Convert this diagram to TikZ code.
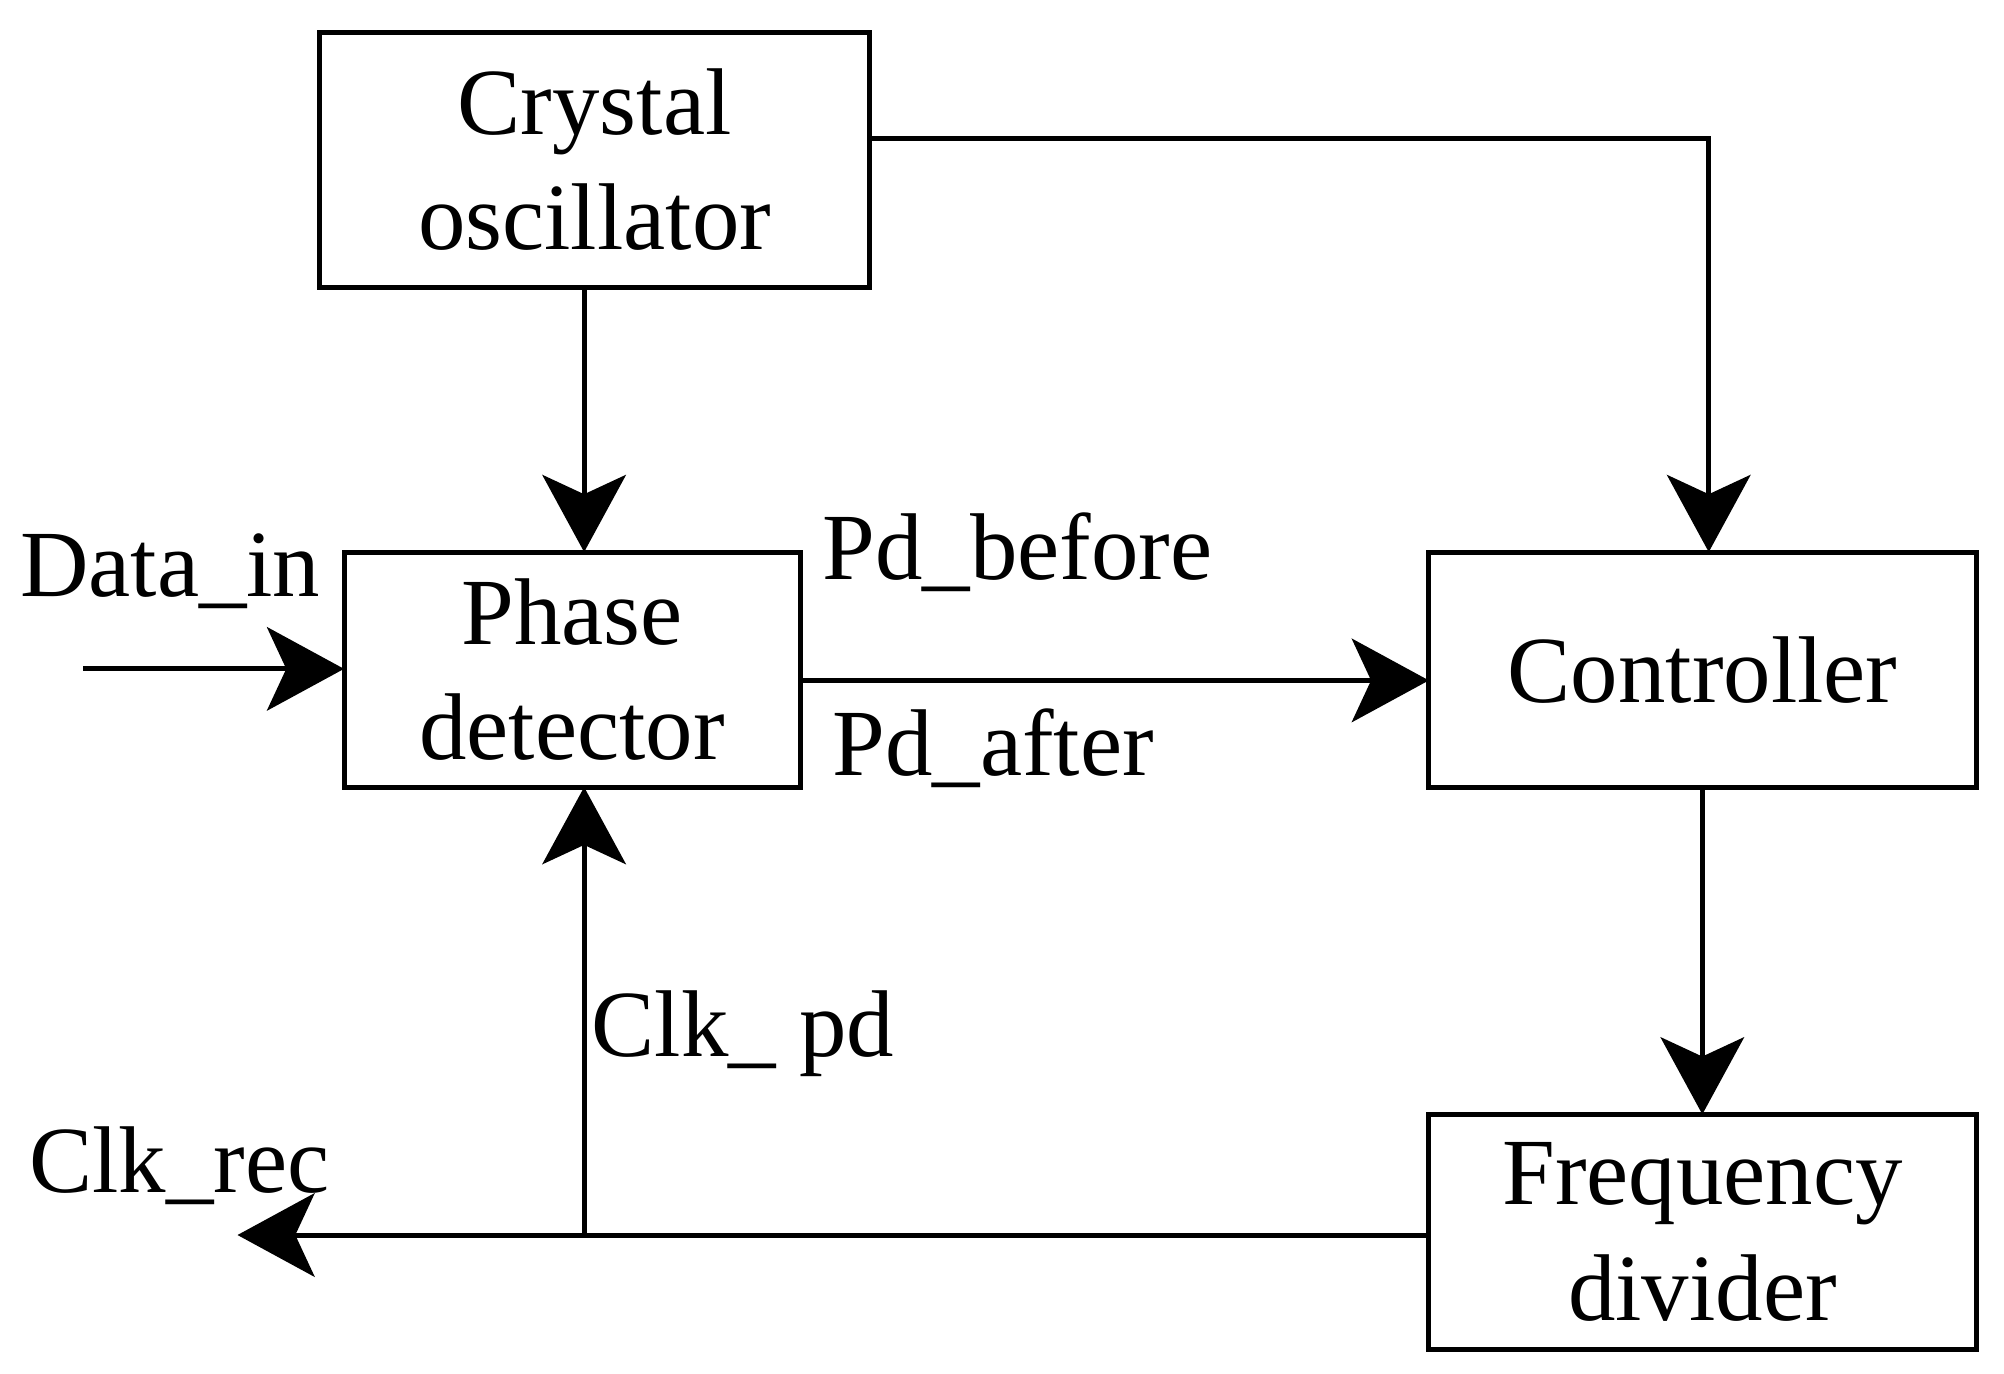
\documentclass[tikz,border=0pt]{standalone}
\usepackage{fontspec}
\setmainfont{Liberation Serif}
\usetikzlibrary{arrows.meta}
\begin{document}
\begin{tikzpicture}[x=0.01cm,y=-0.01cm,
  box/.style={draw,line width=1.1pt,inner sep=0pt,outer sep=0pt},
  lbl/.style={font=\fontsize{21}{25.5}\selectfont,align=center,inner sep=0pt},
  arr/.style={line width=1.1pt,-{Stealth[length=6mm,width=6.5mm,inset=1.5mm]}}]
\useasboundingbox (0,0) rectangle (1561,1070);
\node[box,minimum width=4.28cm,minimum height=1.99cm,anchor=north west] (xo) at (249,25) {};
\node[lbl] at (xo) {Crystal\\oscillator};
\node[box,minimum width=3.55cm,minimum height=1.83cm,anchor=north west] (pd) at (268,430) {};
\node[lbl] at (pd) {Phase\\detector};
\node[box,minimum width=4.26cm,minimum height=1.83cm,anchor=north west] (ct) at (1113,430) {};
\node[lbl] at (ct) {Controller};
\node[box,minimum width=4.26cm,minimum height=1.83cm,anchor=north west] (fd) at (1113,868) {};
\node[lbl] at (fd) {Frequency\\divider};
\coordinate (din) at (65,521);
\coordinate (rec) at (185,962);
\coordinate (j) at (455,962);
\draw[arr] (xo.south -| 455,0) -- (pd.north -| 455,0);
\draw[arr] (xo.east |- 0,108) -| (ct.north -| 1331,0);
\draw[arr] (din) -- (pd.west |- din);
\draw[arr] (pd.east |- 0,530) -- (ct.west |- 0,530);
\draw[arr] (ct.south -| 1326,0) -- (fd.north -| 1326,0);
\draw[arr] (fd.west |- 0,962) -- (rec);
\draw[arr] (j) -- (pd.south -| j);
\node[lbl,anchor=west] (l1) at (15,445) {Data\_in};
\node[lbl,anchor=west] (l2) at (640,430) {Pd\_before};
\node[lbl,anchor=west] (l3) at (648,583) {Pd\_after};
\node[lbl,anchor=west] (l4) at (460,805) {Clk\_ pd};
\node[lbl,anchor=west] (l5) at (22,908) {Clk\_rec};
\end{tikzpicture}
\end{document}
